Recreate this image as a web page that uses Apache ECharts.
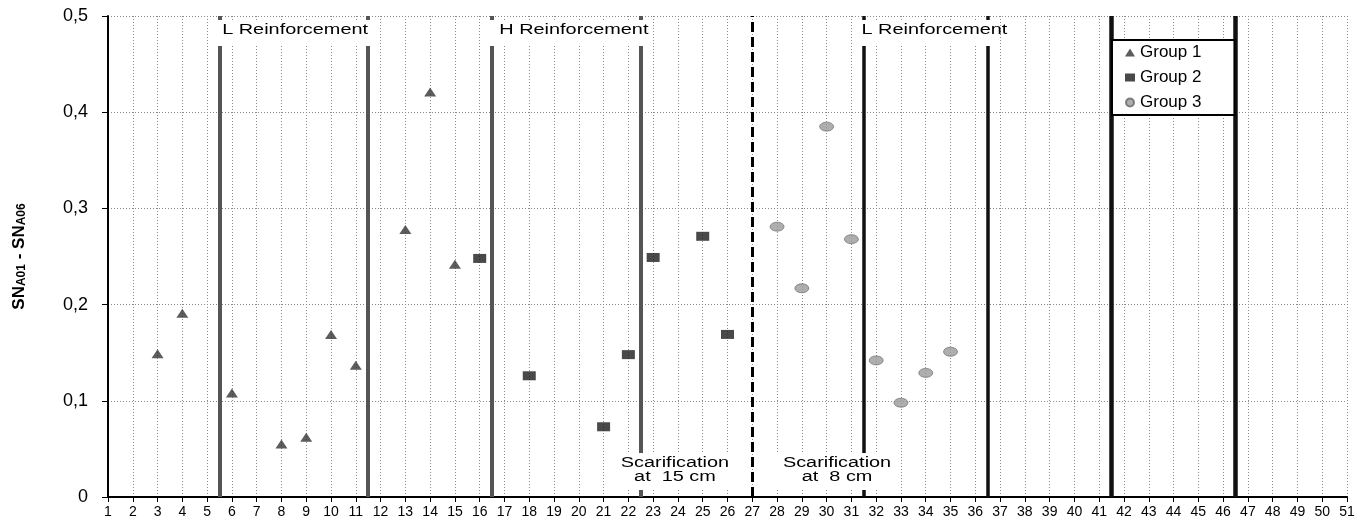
<!DOCTYPE html>
<html>
<head>
<meta charset="utf-8">
<script src="https://cdn.jsdelivr.net/npm/echarts@6/dist/echarts.min.js"></script>
<style>
html,body{margin:0;padding:0;background:#fff;}
#chart{width:1368px;height:521px;}
</style>
</head>
<body>
<div id="chart"></div>
<script>
// ---- data ----
const group1X = [3, 4, 6, 8, 9, 10, 11, 13, 14, 15];
const group1Y = [0.149, 0.191, 0.108, 0.055, 0.062, 0.169, 0.137, 0.278, 0.421, 0.242];
const group2X = [16, 18, 21, 22, 23, 25, 26];
const group2Y = [0.248, 0.126, 0.073, 0.148, 0.249, 0.271, 0.169];
const group3X = [28, 29, 30, 31, 32, 33, 34, 35];
const group3Y = [0.281, 0.217, 0.385, 0.268, 0.142, 0.098, 0.129, 0.151];
const seriesNames = ['Group 1', 'Group 2', 'Group 3'];
const yTickLabels = ['0', '0,1', '0,2', '0,3', '0,4', '0,5'];

// vertical separators (x positions)
const grayLineX = [5.5, 11.5, 16.5, 22.5];
const blackLineX = [31.5, 36.5];
const heavyLineX = [41.5, 46.5];
const dashedLineX = [27];

// annotation texts
const annTexts = ['L Reinforcement', 'H Reinforcement', 'L Reinforcement', 'Scarification\nat  15 cm', 'Scarification\nat  8 cm'];
const annX = [8.55, 19.8, 34.35, 23.88, 30.42];
const annY = [0.4854, 0.4854, 0.4854, 0.0275, 0.0275];
// masking boxes behind annotation texts [x1, x2, yTop, yBottom]
const boxX1 = [5.5, 16.5, 31.5, 21.5, 27.35];
const boxX2 = [11.5, 22.5, 36.5, 26.6, 32.6];
const boxYTop = [0.4958, 0.4958, 0.4958, 0.0457, 0.0457];
const boxYBot = [0.4688, 0.4688, 0.4688, 0.0073, 0.0073];

const zip = (xs, ys) => xs.map((x, i) => [x, ys[i]]);
const FONT = '"Liberation Sans", Arial, sans-serif';

const chart = echarts.init(document.getElementById('chart'));

function vLines(xs) {
  return xs.map(x => ({ coords: [[x, 0], [x, 0.5]] }));
}

const option = {
  animation: false,
  backgroundColor: '#fff',
  textStyle: { fontFamily: FONT },
  grid: { left: 108, right: 21, top: 16, bottom: 24, containLabel: false },
  legend: {
    orient: 'vertical',
    left: 1112, top: 40,
    padding: [4, 33, 4, 13],
    itemWidth: 10, itemHeight: 8, itemGap: 8,
    borderColor: '#000', borderWidth: 2, borderRadius: 0,
    backgroundColor: '#fff',
    textStyle: { fontFamily: FONT, fontSize: 17, color: '#000', lineHeight: 16 },
    data: seriesNames,
    z: 20
  },
  xAxis: {
    type: 'value', min: 1, max: 51, interval: 1,
    axisLine: { onZero: false, lineStyle: { color: '#000', width: 2 } },
    axisTick: { length: 5, lineStyle: { color: '#000', width: 1 } },
    axisLabel: { fontFamily: FONT, fontSize: 14, color: '#000', margin: 8, showMinLabel: true, showMaxLabel: true },
    splitLine: { show: true, lineStyle: { color: '#8a8a8a', type: [1, 2], width: 1 } }
  },
  yAxis: {
    type: 'value', min: 0, max: 0.5, interval: 0.1,
    axisLine: { show: true, lineStyle: { color: '#000', width: 2 } },
    axisTick: { show: true, length: 6, lineStyle: { color: '#000', width: 1 } },
    axisLabel: {
      fontFamily: FONT, fontSize: 18, color: '#000', margin: 20,
      formatter: v => yTickLabels[Math.round(v * 10)]
    },
    splitLine: { show: true, lineStyle: { color: '#8a8a8a', type: [1, 2], width: 1 } },
    name: '{m|SN}{s|A01}{m| - SN}{s|A06}',
    nameLocation: 'middle', nameGap: 80, nameRotate: 90,
    nameTextStyle: {
      rich: {
        m: { fontFamily: FONT, fontSize: 17, fontWeight: 'bold', color: '#000', verticalAlign: 'bottom', lineHeight: 19 },
        s: { fontFamily: FONT, fontSize: 12, fontWeight: 'bold', color: '#000', verticalAlign: 'bottom', lineHeight: 16 }
      }
    }
  },
  series: [
    {
      type: 'lines', coordinateSystem: 'cartesian2d', silent: true, z: 2,
      lineStyle: { color: '#555', width: 4, opacity: 1 },
      data: vLines(grayLineX)
    },
    {
      type: 'lines', coordinateSystem: 'cartesian2d', silent: true, z: 2,
      lineStyle: { color: '#111', width: 3.5, opacity: 1 },
      data: vLines(blackLineX)
    },
    {
      type: 'lines', coordinateSystem: 'cartesian2d', silent: true, z: 2,
      lineStyle: { color: '#111', width: 4.5, opacity: 1 },
      data: vLines(heavyLineX)
    },
    {
      type: 'lines', coordinateSystem: 'cartesian2d', silent: true, z: 2,
      lineStyle: { color: '#000', width: 3, type: [10, 5], opacity: 1 },
      data: vLines(dashedLineX)
    },
    {
      type: 'custom', silent: true, z: 3,
      data: boxX1.map((x, i) => [x, boxX2[i], boxYTop[i], boxYBot[i]]),
      renderItem: (params, api) => {
        const p1 = api.coord([api.value(0), api.value(2)]);
        const p2 = api.coord([api.value(1), api.value(3)]);
        return {
          type: 'rect',
          shape: { x: p1[0] - 3, y: p1[1], width: p2[0] - p1[0] + 6, height: p2[1] - p1[1] },
          style: { fill: '#fff' }
        };
      }
    },
    {
      type: 'custom', silent: true, z: 4,
      data: annX.map((x, i) => [x, annY[i], i]),
      renderItem: (params, api) => {
        const p = api.coord([api.value(0), api.value(1)]);
        const idx = api.value(2);
        return {
          type: 'text', x: p[0], y: p[1], scaleX: 1.42,
          style: {
            text: annTexts[idx], fill: '#000',
            font: '14px ' + FONT,
            align: 'center', verticalAlign: 'middle',
            lineHeight: 14
          }
        };
      }
    },
    {
      name: seriesNames[0], type: 'scatter', z: 5,
      symbol: 'triangle', symbolSize: [12, 9],
      itemStyle: { color: '#333' },
      data: zip(group1X, group1Y)
    },
    {
      name: seriesNames[1], type: 'scatter', z: 5,
      symbol: 'rect', symbolSize: [13, 9],
      itemStyle: { color: '#1c1c1c' },
      data: zip(group2X, group2Y)
    },
    {
      name: seriesNames[2], type: 'scatter', z: 5,
      symbol: 'circle', symbolSize: [14, 9],
      itemStyle: { color: '#9a9a9a', borderColor: '#666', borderWidth: 0.8 },
      data: zip(group3X, group3Y)
    }
  ]
};
chart.setOption(option);
</script>
</body>
</html>
